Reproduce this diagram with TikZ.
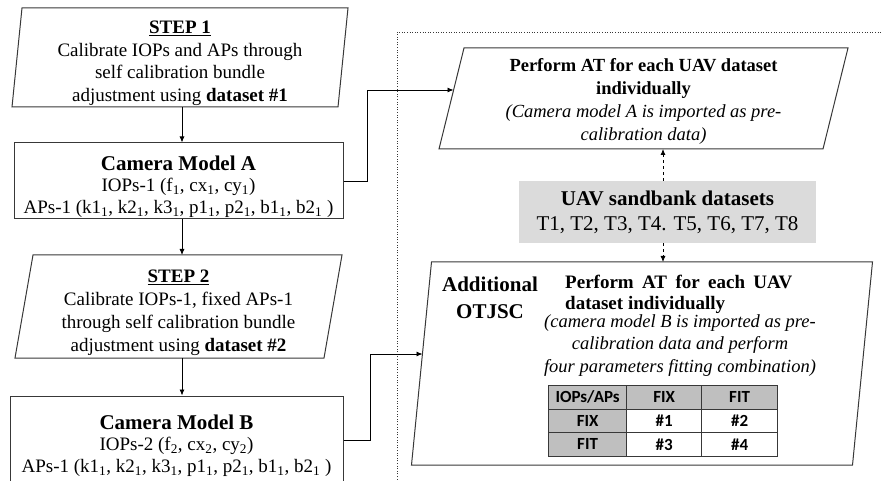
\documentclass[tikz,border=0pt]{standalone}
\usepackage{fontspec}
\setmainfont{Liberation Serif}
\newfontfamily\tabfont{Carlito}
\usetikzlibrary{arrows.meta,matrix,positioning}
\definecolor{edgegray}{rgb}{0.22,0.22,0.22}
\definecolor{uavgray}{rgb}{0.86,0.86,0.86}
\definecolor{cellgray}{rgb}{0.75,0.75,0.75}
\newcommand{\ssub}[1]{\textsubscript{#1}}
\newcommand{\toppad}[1]{\rule{0pt}{#1}}
\newcommand{\modeltitle}[1]{{\fontsize{21}{24}\selectfont\bfseries #1}}
% slanted outline round a (mean width) node: #1 node name, #2 skew
\newcommand{\slantframe}[2]{
    \draw[frameline] ([xshift={-0.5*#2}]#1.south west) -- ([xshift={0.5*#2}]#1.north west)
        -- ([xshift={0.5*#2}]#1.north east) -- ([xshift={-0.5*#2}]#1.south east) -- cycle;
}
\tikzset{
    frameline/.style={draw=edgegray, line width=1pt},
    stepbox/.style={rectangle, outer sep=0pt, align=center, inner xsep=2pt, inner ysep=0pt,
        font=\fontsize{19}{22.7}\selectfont},
    modelbox/.style={frameline, rectangle, align=center,
        inner xsep=2pt, inner ysep=0pt, font=\fontsize{19}{21.5}\selectfont},
    link/.style={->, line width=0.8pt},
    dlink/.style={->, line width=0.8pt, dashed}
}

\begin{document}
\begin{tikzpicture}[x=1pt, y=-1pt, >={Latex[length=6pt,width=5pt]}]
    \clip (0,0) rectangle (881,481);

    % left column: calibration steps
    \node[stepbox, minimum width=326pt, minimum height=99pt] (step1) at (180,57.5)
        {\toppad{24pt}\underline{\textbf{STEP 1}}\\Calibrate IOPs and APs through\\self calibration bundle\\adjustment using \textbf{dataset \#1}};
    \slantframe{step1}{10pt}
    \node[modelbox, minimum width=329pt, minimum height=76pt] (camA) at (178.5,181)
        {\toppad{26pt}\modeltitle{Camera Model A}\\IOPs-1 (f\ssub{1}, cx\ssub{1}, cy\ssub{1})\\APs-1 (k1\ssub{1}, k2\ssub{1}, k3\ssub{1}, p1\ssub{1}, p2\ssub{1}, b1\ssub{1}, b2\ssub{1} )};
    \node[stepbox, minimum width=309pt, minimum height=103pt] (step2) at (178.5,306.5)
        {\toppad{25pt}\underline{\textbf{STEP 2}}\\Calibrate IOPs-1, fixed APs-1\\through self calibration bundle\\adjustment using \textbf{dataset \#2}};
    \slantframe{step2}{18pt}
    \node[modelbox, minimum width=333pt, minimum height=88pt] (camB) at (176.5,440)
        {\toppad{26pt}\modeltitle{Camera Model B}\\IOPs-2 (f\ssub{2}, cx\ssub{2}, cy\ssub{2})\\APs-1 (k1\ssub{1}, k2\ssub{1}, k3\ssub{1}, p1\ssub{1}, p2\ssub{1}, b1\ssub{1}, b2\ssub{1} )};

    % dotted frame round the UAV part
    \draw[edgegray, line width=0.9pt, dash pattern=on 1pt off 1.6pt] (397,490) -- (397,32) -- (890,32);

    % right column: aerial triangulation
    \node[stepbox, minimum width=384pt, minimum height=101pt, font=\fontsize{18.5}{23}\selectfont] (ata) at (643.5,98.5)
        {\toppad{19pt}\textbf{Perform AT for each UAV dataset}\\\textbf{individually}\\\textit{(Camera model A is imported as pre-}\\\textit{calibration data)}};
    \slantframe{ata}{25pt}
    \node[fill=uavgray, minimum width=297pt, minimum height=62pt, align=center,
        font=\fontsize{21}{25}\selectfont] (uav) at (667.5,212)
        {\textbf{UAV sandbank datasets}\\T1, T2, T3, T4. T5, T6, T7, T8};
    \node[stepbox, minimum width=441pt, minimum height=203pt] (atb) at (642,363.5) {};
    \slantframe{atb}{20pt}

    % text inside the lower box
    \node[align=center, font=\fontsize{21}{27}\selectfont\bfseries] (otjsc) at (490,298) {Additional\\OTJSC};
    \node[anchor=north west, inner sep=0pt, text width=227pt, align=justify,
        font=\fontsize{19}{21}\selectfont\bfseries] (atbhead) at (565,275)
        {Perform AT for each UAV dataset individually};
    \node[align=center, font=\fontsize{18.5}{22.5}\selectfont\itshape] (atbnote) at (680,345.5)
        {(camera model B is imported as pre-\\calibration data and perform\\four parameters fitting combination)};
    \matrix (combo) [matrix of nodes, anchor=north west, inner sep=0pt,
        column sep=-0.8pt, row sep=-0.8pt,
        nodes={draw=edgegray, line width=0.8pt, minimum height=23.5pt, anchor=center,
            font=\tabfont\bfseries\fontsize{17}{17}\selectfont},
        column 1/.style={nodes={fill=cellgray, minimum width=78pt}},
        column 2/.style={nodes={minimum width=75pt}},
        column 3/.style={nodes={minimum width=76pt}},
        row 1/.style={nodes={fill=cellgray}}] at (548,385)
    {
        IOPs/APs & FIX & FIT \\
        FIX & \#1 & \#2 \\
        FIT & \#3 & \#4 \\
    };

    % connectors
    \draw[link] ([xshift=2pt]step1.south) -- ([xshift=2pt]step1.south |- camA.north);
    \draw[link] ([xshift=2pt]step1.south |- camA.south) -- ([xshift=2pt]step1.south |- step2.north);
    \draw[link] ([xshift=2pt]step1.south |- step2.south) -- ([xshift=2pt]step1.south |- camB.north);
    \draw[link] (camA.east) -- ++(24,0) |- ([xshift=2pt,yshift=8.5pt]ata.west);
    \draw[link] (camB.east) -- ++(27,0) |- ([xshift=1pt,yshift=9.5pt]atb.west);
    \draw[dlink] ([xshift=-4.5pt]uav.north) -- ([xshift=-4.5pt]uav.north |- ata.south);
    \draw[dlink] ([xshift=-4.5pt]uav.south) -- ([xshift=-4.5pt]uav.south |- atb.north);
\end{tikzpicture}
\end{document}
